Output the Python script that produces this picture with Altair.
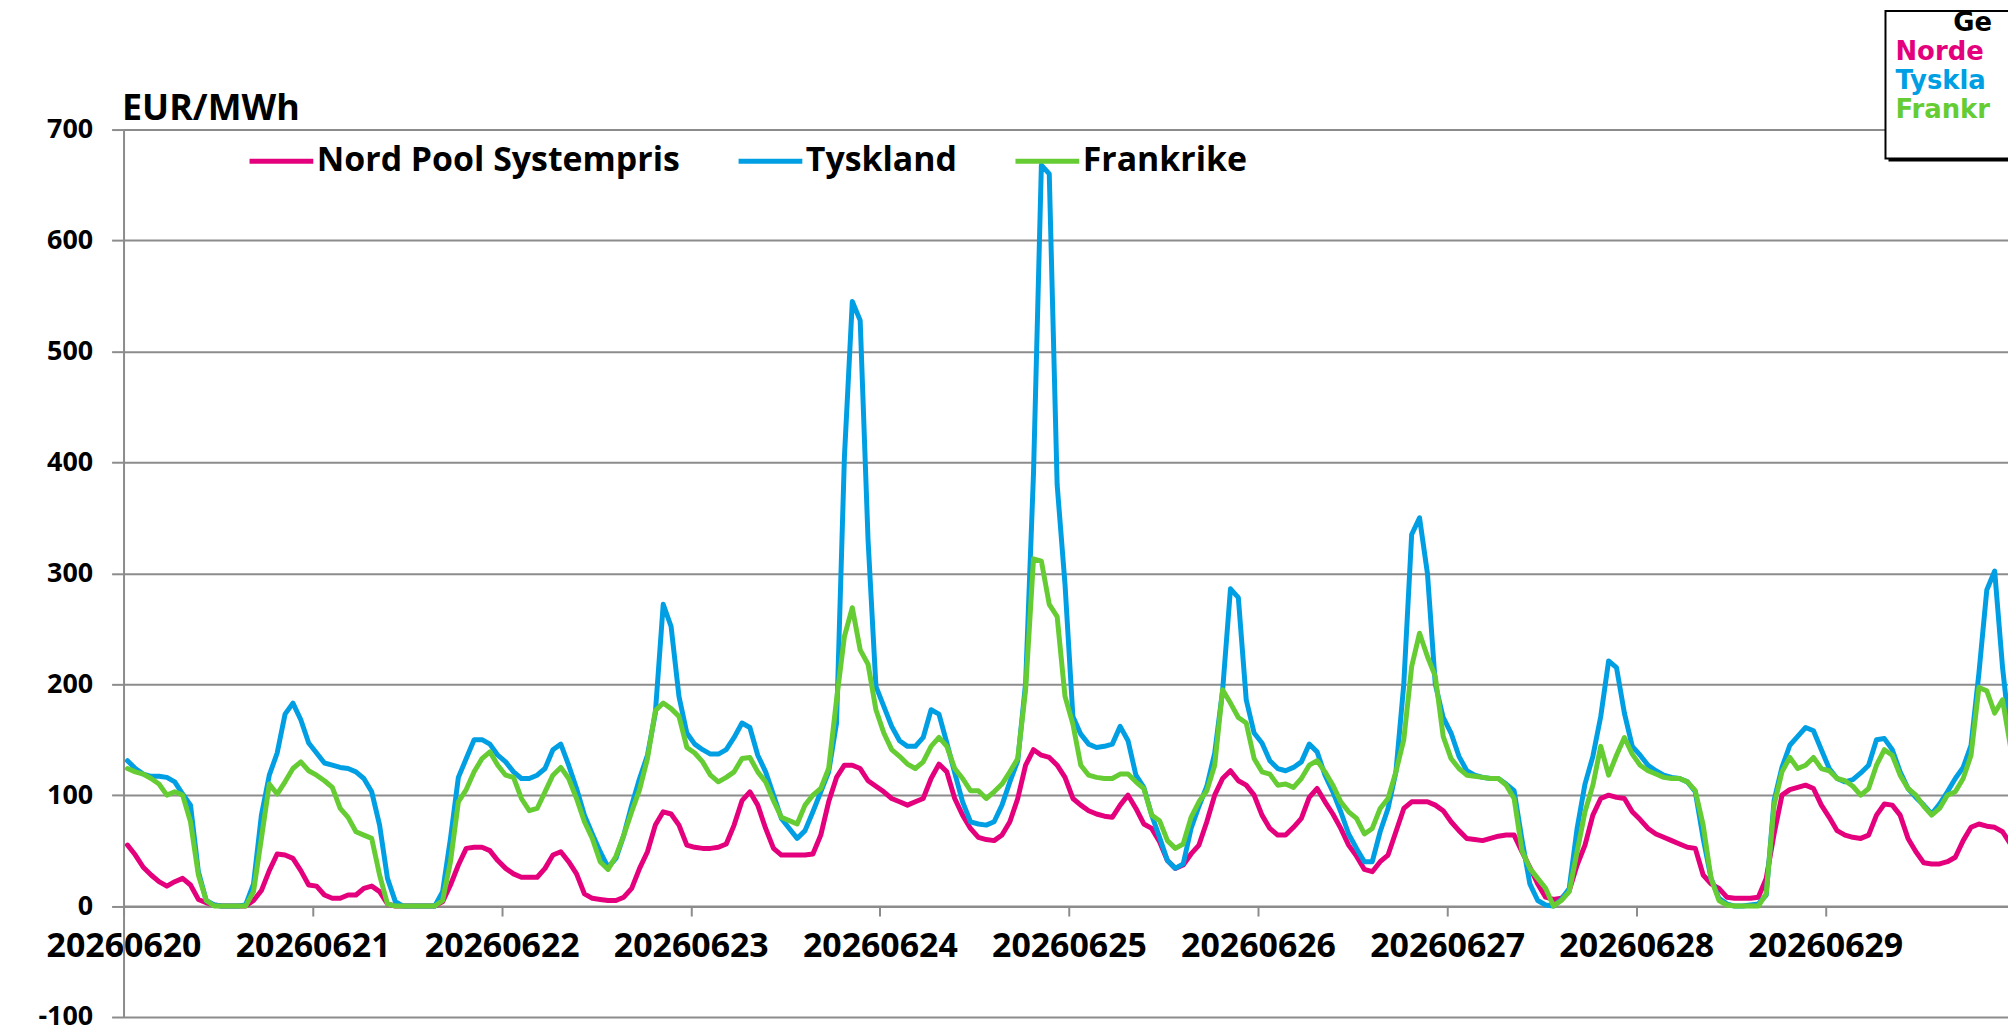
import altair as alt
import pandas as pd

dates = ["20260620", "20260621", "20260622", "20260623", "20260624",
         "20260625", "20260626", "20260627", "20260628", "20260629"]

nord_pool = [
    55, 46, 35, 28, 22, 18, 22, 25, 19, 6, 3, 1, 0, 0, 0, 0, 5, 14, 32, 47, 46, 43, 32, 19,
    18, 10, 7, 7, 10, 10, 16, 18, 13, 2, 0, 0, 0, 0, 0, 0, 4, 19, 37, 52, 53, 53, 50, 41,
    34, 29, 26, 26, 26, 34, 46, 49, 40, 29, 11, 7, 6, 5, 5, 8, 16, 34, 49, 73, 85, 83, 73, 55,
    53, 52, 52, 53, 56, 73, 95, 103, 91, 70, 52, 46, 46, 46, 46, 47, 64, 94, 116, 127, 127, 124, 113, 108,
    103, 97, 94, 91, 94, 97, 115, 128, 121, 97, 82, 70, 62, 60, 59, 64, 76, 97, 127, 141, 136, 134, 127, 116,
    97, 91, 86, 83, 81, 80, 91, 100, 88, 74, 70, 58, 41, 34, 37, 47, 55, 76, 100, 115, 122, 113, 109, 100,
    82, 70, 64, 64, 71, 79, 98, 106, 94, 83, 70, 55, 45, 33, 31, 40, 46, 67, 88, 94, 94, 94, 91, 86,
    76, 68, 61, 60, 59, 61, 63, 64, 64, 49, 35, 20, 8, 6, 7, 14, 37, 55, 82, 97, 100, 98, 97, 85,
    78, 70, 65, 62, 59, 56, 53, 52, 28, 20, 16, 8, 7, 7, 7, 8, 25, 65, 100, 105, 107, 109, 106, 91,
    80, 68, 64, 62, 61, 64, 82, 92, 91, 82, 61, 49, 39, 38, 38, 40, 44, 59, 71, 74, 72, 71, 67, 56,
]

tyskland = [
    131, 124, 119, 117, 117, 116, 112, 101, 91, 31, 5, 1, 0, 0, 0, 1, 20, 82, 118, 138, 173, 183, 168, 147,
    138, 129, 127, 125, 124, 121, 115, 103, 73, 25, 4, 0, 0, 0, 0, 0, 13, 61, 116, 133, 150, 150, 146, 136,
    130, 121, 115, 115, 118, 124, 141, 146, 127, 106, 82, 65, 49, 35, 43, 64, 91, 115, 136, 174, 272, 252, 189, 156,
    146, 141, 137, 137, 141, 152, 165, 161, 136, 121, 100, 79, 70, 61, 68, 85, 103, 121, 165, 405, 545, 528, 330, 198,
    180, 162, 149, 144, 144, 152, 177, 173, 147, 120, 94, 76, 74, 73, 76, 91, 112, 131, 201, 390, 668, 660, 380, 290,
    171, 155, 146, 143, 144, 146, 162, 149, 118, 107, 82, 62, 41, 34, 38, 70, 90, 108, 138, 194, 286, 278, 186, 156,
    147, 131, 124, 122, 125, 130, 146, 139, 118, 103, 85, 65, 52, 40, 40, 67, 88, 121, 200, 335, 350, 300, 200, 170,
    156, 135, 122, 118, 116, 115, 115, 110, 104, 60, 20, 5, 1, 0, 6, 16, 70, 110, 135, 171, 221, 215, 174, 144,
    136, 127, 122, 118, 116, 115, 112, 103, 61, 25, 7, 2, 0, 0, 1, 2, 10, 95, 125, 145, 153, 161, 158, 141,
    124, 115, 112, 114, 120, 127, 150, 151, 141, 121, 106, 98, 91, 83, 92, 103, 115, 125, 145, 210, 285, 302, 215, 150,
]

frankrike = [
    124, 121, 119, 115, 110, 100, 103, 100, 76, 28, 5, 0, 0, 0, 0, 0, 13, 61, 110, 101, 112, 124, 130, 122,
    118, 113, 107, 88, 80, 67, 64, 61, 28, 2, 0, 0, 0, 0, 0, 0, 5, 40, 94, 105, 121, 133, 139, 127,
    118, 116, 97, 86, 88, 103, 118, 125, 115, 97, 76, 61, 40, 33, 45, 64, 85, 105, 133, 176, 183, 178, 171, 143,
    138, 130, 118, 112, 116, 121, 133, 134, 121, 112, 95, 80, 77, 74, 91, 100, 106, 124, 186, 243, 269, 231, 218, 177,
    156, 141, 135, 128, 124, 130, 144, 152, 144, 124, 115, 104, 104, 97, 103, 110, 121, 133, 195, 313, 311, 272, 261, 189,
    164, 127, 118, 116, 115, 115, 119, 119, 112, 106, 82, 77, 59, 52, 56, 80, 94, 104, 127, 195, 183, 170, 165, 133,
    121, 119, 109, 110, 107, 115, 127, 131, 121, 109, 94, 85, 79, 65, 70, 88, 97, 121, 150, 216, 246, 225, 207, 153,
    133, 124, 118, 117, 116, 115, 115, 109, 97, 50, 34, 25, 16, 0, 5, 13, 49, 85, 109, 144, 118, 136, 152, 137,
    127, 122, 119, 116, 115, 115, 112, 104, 73, 25, 5, 1, 0, 0, 0, 0, 11, 91, 121, 134, 124, 127, 134, 124,
    122, 115, 113, 108, 100, 106, 127, 141, 136, 118, 106, 100, 90, 82, 88, 100, 103, 115, 136, 197, 194, 174, 186, 144,
]

series_names = ["Nord Pool Systempris", "Tyskland", "Frankrike"]
series_colors = ["#E4007C", "#009FE3", "#66CC33"]
y_ticks = [-100, 0, 100, 200, 300, 400, 500, 600, 700]
# the note box in the top-right corner is cropped in the reference; only these parts show
box_lines = ["Ge", "Norde", "Tyskla", "Frankr"]

rows = []
for name, values in zip(series_names, [nord_pool, tyskland, frankrike]):
    for i, v in enumerate(values):
        rows.append({"serie": name, "time": i, "pris": v})
df = pd.DataFrame(rows)

HOUR_PX = 7.91
W = 1892
H = 891
GRID = "#8C8C8C"
FONT = "Open Sans"

label_expr = "[" + ",".join("'%s'" % d for d in dates) + "][round(datum.value / 24)]"

x_enc = alt.X(
    "tid:Q",
    scale=alt.Scale(domain=[0, W / HOUR_PX], nice=False, zero=False),
    axis=alt.Axis(
        values=[24 * k for k in range(len(dates))],
        labelExpr=label_expr,
        offset=-H / 8,
        grid=False,
        domainColor=GRID, domainWidth=2,
        tickColor=GRID, tickWidth=2, tickSize=10,
        labelFont=FONT, labelFontWeight="bold", labelFontSize=34,
        labelColor="black", labelPadding=14, labelAngle=0,
        labelFlush=False, labelOverlap=False,
        title=None,
    ),
)

y_enc = alt.Y(
    "pris:Q",
    scale=alt.Scale(domain=[-100, 700], nice=False, zero=False),
    axis=alt.Axis(
        values=y_ticks,
        labelExpr="datum.value < 0 ? '-' + abs(datum.value) : '' + datum.value",
        grid=True, gridColor=GRID, gridWidth=2,
        domainColor=GRID, domainWidth=2,
        tickColor=GRID, tickWidth=2, tickSize=12,
        labelFont=FONT, labelFontWeight="bold", labelFontSize=27,
        labelColor="black", labelPadding=19,
        title="EUR/MWh", titleAngle=0, titleAlign="left", titleBaseline="middle",
        titleX=-2, titleY=-21, titleFont=FONT, titleFontWeight="bold",
        titleFontSize=36, titleColor="black",
    ),
)

color_enc = alt.Color(
    "serie:N",
    scale=alt.Scale(domain=series_names, range=series_colors),
    legend=alt.Legend(
        orient="none", legendX=124, legendY=-3, direction="horizontal",
        title=None, symbolType="stroke", symbolSize=4096, symbolStrokeWidth=5,
        labelFont=FONT, labelFontWeight="bold", labelFontSize=34,
        labelColor="black", labelOffset=1, columnPadding=48, labelLimit=1000,
        padding=0,
    ),
)

base = alt.Chart(df).transform_calculate(tid="datum.time + 0.5")

lines = [
    base.transform_filter(alt.datum.serie == name)
    .mark_line(strokeWidth=5, strokeJoin="round", strokeCap="round")
    .encode(x=x_enc, y=y_enc, color=color_enc)
    for name in series_names
]

one = pd.DataFrame({"k": [0]})
shadow = alt.Chart(one).mark_rect(fill="black").encode(
    x=alt.value(1772), x2=alt.value(1960), y=alt.value(-116), y2=alt.value(32))
box = alt.Chart(one).mark_rect(fill="white", stroke="black", strokeWidth=2).encode(
    x=alt.value(1769), x2=alt.value(1960), y=alt.value(-119), y2=alt.value(29))

box_text = []
text_pos = [(1837, -107, "black"), (1779, -78, series_colors[0]),
            (1779, -49, series_colors[1]), (1779, -20, series_colors[2])]
for line, (tx, ty, tc) in zip(box_lines, text_pos):
    box_text.append(
        alt.Chart(pd.DataFrame({"label": [line]}))
        .mark_text(align="left", baseline="middle", font="DejaVu Sans",
                   fontWeight="bold", fontSize=26)
        .encode(x=alt.value(tx), y=alt.value(ty), text="label:N", color=alt.value(tc))
    )

chart = alt.layer(*lines, shadow, box, *box_text).properties(
    width=W, height=H,
    autosize=alt.AutoSizeParams(type="none"),
    padding={"left": 116, "top": 120, "right": 0, "bottom": 13},
    background="white",
).configure_view(strokeWidth=0)

chart.save("out.html", embed_options={"renderer": "svg", "actions": False})
